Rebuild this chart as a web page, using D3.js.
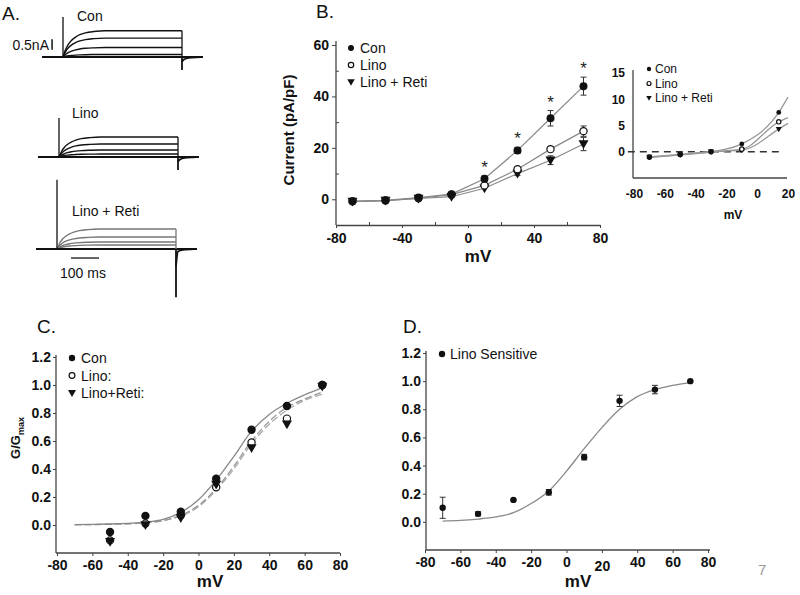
<!DOCTYPE html>
<html><head><meta charset="utf-8">
<script src="https://cdn.jsdelivr.net/npm/d3@7"></script>
<style>
body{margin:0;background:#fff}
svg{font-family:Arial,"Liberation Sans",sans-serif}
</style>
</head><body>
<svg id="c" width="800" height="595"></svg>
<script>
// ---------- DATA ----------
// Panel A: current traces (nA) vs time (ms)
const traceTime = [0, 10, 20, 30, 45, 60, 80, 110, 150, 425];
const traceFrac = [0, 0.3, 0.5, 0.63, 0.76, 0.85, 0.92, 0.97, 1, 1];
const conLevels = [1.25, 0.9, 0.45, 0.12];
const linoLevels = [0.95, 0.62, 0.33, 0.14];
const retiLevels = [0.95, 0.57, 0.33, 0.19];
const onSpikes = [1.9, 1.86, 3.3];
const offSpikes = [-0.62, -0.62, -2.3];
const traceLabels = ["Con", "Lino", "Lino + Reti"];

// Panel B: I-V
const ivV = [-70, -50, -30, -10, 10, 30, 50, 70];
const ivCon = [-0.8, -0.4, 0.7, 2, 8, 19, 31.5, 44];
const ivConErr = [0.3, 0.3, 0.3, 0.4, 1, 1.2, 3, 3.5];
const ivLino = [-0.8, -0.5, 0.4, 1.8, 5.4, 11.7, 19.5, 26.5];
const ivLinoErr = [0.3, 0.3, 0.3, 0.3, 0.5, 0.8, 1, 2];
const ivReti = [-0.9, -0.5, 0.3, 1, 4.3, 10, 15.2, 21.5];
const ivRetiErr = [0.3, 0.3, 0.3, 0.3, 0.5, 0.8, 1.7, 2.6];
const ivSig = [10, 30, 50, 70];
const ivYTicks = [0, 20, 40, 60];
const ivXTicks = [-80, -40, 0, 40, 80];

// Panel B inset
const inV = [-70, -50, -30, -10, 14];
const inCon = [-1.1, -0.6, 0, 1.5, 7.5];
const inLino = [-1.0, -0.5, 0, 0.5, 5.7];
const inReti = [-1.0, -0.6, 0, 0.3, 4.3];
const inLineV = [-70, -50, -30, -10, 14, 20];
const inConLine = [-1.1, -0.6, 0, 1.5, 7.5, 10.4];
const inLinoLine = [-1.0, -0.5, 0, 0.5, 5.7, 6.5];
const inRetiLine = [-1.0, -0.6, 0, 0.3, 4.3, 5.4];
const inYTicks = [0, 5, 10, 15];
const inXTicks = [-80, -60, -40, -20, 0, 20];

// Panel C: G/Gmax
const cV = [-50, -30, -10, 10, 30, 50, 70];
const cCon = [-0.05, 0.065, 0.095, 0.33, 0.68, 0.85, 1.0];
const cLino = [-0.11, 0.01, 0.07, 0.27, 0.59, 0.76, 1.0];
const cReti = [-0.12, 0.0, 0.05, 0.29, 0.55, 0.72, 0.99];
const cFitV = [-70, -60, -50, -40, -30, -20, -10, 0, 10, 20, 30, 40, 50, 60, 70];
const cFitCon = [0.002, 0.004, 0.007, 0.012, 0.02, 0.04, 0.09, 0.18, 0.32, 0.49, 0.67, 0.79, 0.87, 0.93, 0.98];
const cFitLino = [0.002, 0.003, 0.005, 0.009, 0.016, 0.032, 0.07, 0.14, 0.26, 0.42, 0.6, 0.74, 0.84, 0.9, 0.95];
const cFitReti = [0.002, 0.003, 0.005, 0.008, 0.015, 0.03, 0.065, 0.13, 0.25, 0.4, 0.58, 0.72, 0.82, 0.89, 0.935];
const gYTicks = [0, 0.2, 0.4, 0.6, 0.8, 1.0, 1.2];
const gXTicks = [-80, -60, -40, -20, 0, 20, 40, 60, 80];

// Panel D: Lino sensitive
const dV = [-70, -50, -30, -10, 10, 30, 50, 70];
const dVal = [0.10, 0.057, 0.156, 0.21, 0.46, 0.86, 0.94, 1.0];
const dErr = [0.075, 0.015, 0.005, 0.02, 0.02, 0.04, 0.03, 0.005];
const dFit = [0.005, 0.01, 0.02, 0.035, 0.065, 0.13, 0.22, 0.36, 0.52, 0.67, 0.8, 0.89, 0.94, 0.97, 0.99];

// ---------- DRAW ----------
const svg = d3.select("#c");
const AX = "#444";
const hy = d => String(d);

function styleAxis(g, fs) {
  g.select(".domain").attr("stroke", AX).attr("stroke-width", 1.3);
  g.selectAll(".tick line").attr("stroke", AX).attr("stroke-width", 1);
  g.selectAll(".tick text").attr("font-size", fs).attr("font-weight", "bold").attr("fill", "#111")
    .attr("font-family", "Arial, 'Liberation Sans', sans-serif");
}
function panelLabel(t, x, y, fs) {
  svg.append("text").attr("x", x).attr("y", y).attr("font-size", fs).attr("fill", "#111").text(t);
}
const triDown = {
  draw(ctx, size) {
    const s = Math.sqrt(size);
    ctx.moveTo(-s * 0.6, -s * 0.45); ctx.lineTo(s * 0.6, -s * 0.45); ctx.lineTo(0, s * 0.6); ctx.closePath();
  }
};
function marker(g, kind, x, y, scale) {
  const k = scale || 1;
  if (kind === "con") g.append("circle").attr("cx", x).attr("cy", y).attr("r", 4 * k).attr("fill", "#111");
  else if (kind === "lino") g.append("circle").attr("cx", x).attr("cy", y).attr("r", 3.6 * k).attr("fill", "#fff").attr("stroke", "#111").attr("stroke-width", 1.2);
  else g.append("path").attr("transform", `translate(${x},${y})`).attr("d", d3.symbol().type(triDown).size(70 * k * k)()).attr("fill", "#111");
}
function errBar(g, x, y1, y2, cap) {
  g.append("line").attr("x1", x).attr("x2", x).attr("y1", y1).attr("y2", y2).attr("stroke", "#333").attr("stroke-width", 1);
  g.append("line").attr("x1", x - cap).attr("x2", x + cap).attr("y1", y1).attr("y2", y1).attr("stroke", "#333").attr("stroke-width", 1);
  g.append("line").attr("x1", x - cap).attr("x2", x + cap).attr("y1", y2).attr("y2", y2).attr("stroke", "#333").attr("stroke-width", 1);
}

// ---- Panel A ----
panelLabel("A.", 2, 20, 19);
const blocks = [
  { x0: 63, base: 57, levels: conLevels, col: "#111", lx: 77, ly: 21 },
  { x0: 59, base: 157, levels: linoLevels, col: "#111", lx: 72, ly: 118 },
  { x0: 57, base: 249, levels: retiLevels, col: "#777", lx: 72, ly: 216 }
];
let retiScales = null, conScales = null;
blocks.forEach((b, bi) => {
  const x = d3.scaleLinear().domain([-75, 500]).range([b.x0 - 21, b.x0 + 140]);
  const y = d3.scaleLinear().domain([0, 1]).range([b.base, b.base - 21]);
  if (bi === 0) conScales = { x, y };
  if (bi === 2) retiScales = { x, y };
  const g = svg.append("g");
  const ln = d3.line().x(d => x(d[0])).y(d => y(d[1])).curve(d3.curveMonotoneX);
  b.levels.forEach(L => {
    const pts = traceTime.map((t, i) => [t, L * traceFrac[i]]);
    g.append("path").attr("d", ln(pts)).attr("fill", "none").attr("stroke", b.col).attr("stroke-width", 1.4);
  });
  g.append("path").attr("d", d3.line().x(d => x(d[0])).y(d => y(d[1]))([[-75, 0], [500, 0]]))
    .attr("stroke", "#111").attr("stroke-width", 2).attr("fill", "none");
  g.append("line").attr("x1", x(0)).attr("x2", x(0)).attr("y1", y(0)).attr("y2", y(onSpikes[bi]))
    .attr("stroke", "#111").attr("stroke-width", 1.3);
  const maxL = d3.max(b.levels);
  g.append("line").attr("x1", x(425)).attr("x2", x(425)).attr("y1", y(maxL)).attr("y2", y(0))
    .attr("stroke", b.col).attr("stroke-width", 1.3);
  g.append("line").attr("x1", x(425)).attr("x2", x(425)).attr("y1", y(0)).attr("y2", y(offSpikes[bi]))
    .attr("stroke", "#111").attr("stroke-width", 1.8);
  g.append("path").attr("d", ln([[425, offSpikes[bi] * 0.35], [432, -0.12], [450, -0.04], [490, 0]]))
    .attr("stroke", "#111").attr("stroke-width", 1.8).attr("fill", "none");
  svg.append("text").attr("x", b.lx).attr("y", b.ly).attr("font-size", 14).attr("fill", "#111").text(traceLabels[bi]);
});
svg.append("line").attr("x1", conScales.x(-39)).attr("x2", conScales.x(-39))
  .attr("y1", conScales.y(0.35)).attr("y2", conScales.y(0.85)).attr("stroke", "#111").attr("stroke-width", 1.5);
svg.append("text").attr("x", 49).attr("y", 50).attr("text-anchor", "end").attr("font-size", 14).attr("fill", "#111").text("0.5nA");
svg.append("line").attr("x1", retiScales.x(50)).attr("x2", retiScales.x(150))
  .attr("y1", retiScales.y(-0.43)).attr("y2", retiScales.y(-0.43)).attr("stroke", "#555").attr("stroke-width", 1.8);
svg.append("text").attr("x", 60).attr("y", 278).attr("font-size", 14).attr("fill", "#111").text("100 ms");

// ---- Panel B ----
panelLabel("B.", 316, 18, 19);
{
  const x = d3.scaleLinear().domain([-80, 80]).range([336, 600]);
  const y = d3.scaleLinear().domain([-10, 60]).range([225, 45]);
  const gy = svg.append("g").attr("transform", "translate(336,0)")
    .call(d3.axisLeft(y).tickValues(ivYTicks).tickFormat(hy).tickSize(4).tickSizeOuter(0).tickPadding(3));
  styleAxis(gy, 14);
  gy.select(".domain").attr("d", `M0,${y(-10)}V41`);
  const gym = svg.append("g").attr("transform", "translate(336,0)")
    .call(d3.axisLeft(y).tickValues([10, 30, 50]).tickSize(-3).tickSizeOuter(0).tickFormat(""));
  gym.select(".domain").remove(); gym.selectAll("line").attr("stroke", AX);
  const gx = svg.append("g").attr("transform", "translate(0,225)")
    .call(d3.axisBottom(x).tickValues(ivXTicks).tickFormat(hy).tickSize(3).tickSizeOuter(0).tickPadding(5));
  styleAxis(gx, 14);
  const gxm = svg.append("g").attr("transform", "translate(0,225)")
    .call(d3.axisBottom(x).tickValues([-60, -20, 20, 60]).tickSize(-3).tickSizeOuter(0).tickFormat(""));
  gxm.select(".domain").remove(); gxm.selectAll("line").attr("stroke", AX);

  svg.append("text").attr("transform", "translate(294,130) rotate(-90)").attr("text-anchor", "middle")
    .attr("font-size", 15).attr("font-weight", "bold").attr("fill", "#111").text("Current (pA/pF)");
  svg.append("text").attr("x", 478).attr("y", 262).attr("text-anchor", "middle")
    .attr("font-size", 17).attr("font-weight", "bold").attr("fill", "#111").text("mV");

  const g = svg.append("g");
  const ln = d3.line().x(d => x(d[0])).y(d => y(d[1]));
  [ivCon, ivLino, ivReti].forEach(arr => {
    g.append("path").attr("d", ln(ivV.map((v, i) => [v, arr[i]]))).attr("fill", "none").attr("stroke", "#888").attr("stroke-width", 1.2);
  });
  [[ivReti, ivRetiErr], [ivLino, ivLinoErr], [ivCon, ivConErr]].forEach(([arr, err]) => {
    ivV.forEach((v, i) => { if (err[i] > 0.6) errBar(g, x(v), y(arr[i] + err[i]), y(arr[i] - err[i]), 3); });
  });
  ivV.forEach((v, i) => marker(g, "reti", x(v), y(ivReti[i]), 1));
  ivV.forEach((v, i) => marker(g, "lino", x(v), y(ivLino[i]), 1));
  ivV.forEach((v, i) => marker(g, "con", x(v), y(ivCon[i]), 1));
  ivSig.forEach(v => {
    const i = ivV.indexOf(v);
    g.append("text").attr("x", x(v)).attr("y", y(ivCon[i] + ivConErr[i]) - 3).attr("text-anchor", "middle")
      .attr("font-size", 17).attr("fill", "#222").text("*");
  });
  const lg = svg.append("g");
  const leg = [["con", "Con"], ["lino", "Lino"], ["reti", "Lino + Reti"]];
  leg.forEach((d, i) => {
    marker(lg, d[0], 351, 48 + i * 17, 0.75);
    lg.append("text").attr("x", 360).attr("y", 48 + i * 17 + 5).attr("font-size", 14).attr("fill", "#111").text(d[1]);
  });
}

// ---- Panel B inset ----
{
  const x = d3.scaleLinear().domain([-80, 20]).range([634, 788]);
  const y = d3.scaleLinear().domain([-5, 15]).range([178, 73]);
  const gy = svg.append("g").attr("transform", "translate(633,0)")
    .call(d3.axisLeft(y).tickValues(inYTicks).tickFormat(hy).tickSize(0).tickSizeOuter(0).tickPadding(8));
  styleAxis(gy, 12);
  gy.select(".domain").attr("d", `M0,${y(-5)}V70`);
  const gx = svg.append("g").attr("transform", "translate(0,178)")
    .call(d3.axisBottom(x).tickValues(inXTicks).tickFormat(hy).tickSize(0).tickSizeOuter(0).tickPadding(11));
  styleAxis(gx, 12);
  gx.select(".domain").attr("d", "M633,0H787");
  svg.append("text").attr("x", 733).attr("y", 219).attr("text-anchor", "middle")
    .attr("font-size", 12).attr("font-weight", "bold").attr("fill", "#111").text("mV");
  const g = svg.append("g");
  const ln = d3.line().x(d => x(d[0])).y(d => y(d[1]));
  g.append("path").attr("d", ln([[-84, 0], [16, 0]])).attr("stroke", "#333").attr("stroke-width", 1.5)
    .attr("stroke-dasharray", "7,5").attr("fill", "none");
  const lc = d3.line().x(d => x(d[0])).y(d => y(d[1])).curve(d3.curveMonotoneX);
  [inConLine, inLinoLine, inRetiLine].forEach(arr => {
    g.append("path").attr("d", lc(inLineV.map((v, i) => [v, arr[i]]))).attr("fill", "none").attr("stroke", "#999").attr("stroke-width", 1.3);
  });
  inV.forEach((v, i) => marker(g, "reti", x(v), y(inReti[i]), 0.6));
  inV.forEach((v, i) => marker(g, "lino", x(v), y(inLino[i]), 0.6));
  inV.forEach((v, i) => marker(g, "con", x(v), y(inCon[i]), 0.6));
  const leg = [["con", "Con"], ["lino", "Lino"], ["reti", "Lino + Reti"]];
  leg.forEach((d, i) => {
    marker(g, d[0], 649, 69 + i * 14.5, 0.55);
    g.append("text").attr("x", 655).attr("y", 69 + i * 14.5 + 4).attr("font-size", 12).attr("fill", "#111").text(d[1]);
  });
}

// ---- Panel C ----
panelLabel("C.", 37, 333, 19);
{
  const x = d3.scaleLinear().domain([-80, 80]).range([57, 340]);
  const y = d3.scaleLinear().domain([-0.2, 1.2]).range([553, 357]);
  const gy = svg.append("g").attr("transform", "translate(56,0)")
    .call(d3.axisLeft(y).tickValues(gYTicks).tickFormat(d3.format(".1f")).tickSize(3).tickSizeOuter(0).tickPadding(2));
  styleAxis(gy, 14);
  gy.select(".domain").attr("d", `M0,553V355`);
  const gx = svg.append("g").attr("transform", "translate(0,553)")
    .call(d3.axisBottom(x).tickValues(gXTicks).tickFormat(hy).tickSize(3).tickSizeOuter(0).tickPadding(4));
  styleAxis(gx, 14);
  gx.select(".domain").attr("d", "M56,0H340");
  svg.append("text").attr("x", 210).attr("y", 587).attr("text-anchor", "middle")
    .attr("font-size", 17).attr("font-weight", "bold").attr("fill", "#111").text("mV");
  const yl = svg.append("text").attr("transform", "translate(20,438) rotate(-90)").attr("text-anchor", "middle")
    .attr("font-size", 13).attr("font-weight", "bold").attr("fill", "#111");
  yl.append("tspan").text("G/G");
  yl.append("tspan").attr("font-size", 9).attr("dy", 4).text("max");

  const g = svg.append("g");
  const lc = d3.line().x(d => x(d[0])).y(d => y(d[1])).curve(d3.curveMonotoneX);
  g.append("path").attr("d", lc(cFitV.map((v, i) => [v, cFitReti[i]]))).attr("fill", "none")
    .attr("stroke", "#aaa").attr("stroke-width", 1.3).attr("stroke-dasharray", "7,3");
  g.append("path").attr("d", lc(cFitV.map((v, i) => [v, cFitLino[i]]))).attr("fill", "none")
    .attr("stroke", "#999").attr("stroke-width", 1.3).attr("stroke-dasharray", "7,3");
  g.append("path").attr("d", lc(cFitV.map((v, i) => [v, cFitCon[i]]))).attr("fill", "none")
    .attr("stroke", "#888").attr("stroke-width", 1.3);
  cV.forEach((v, i) => marker(g, "lino", x(v), y(cLino[i]), 1));
  cV.forEach((v, i) => marker(g, "reti", x(v), y(cReti[i]), 1));
  cV.forEach((v, i) => marker(g, "con", x(v), y(cCon[i]), 1.05));
  const leg = [["con", "Con"], ["lino", "Lino:"], ["reti", "Lino+Reti:"]];
  leg.forEach((d, i) => {
    marker(g, d[0], 72, 358 + i * 17.5, 0.8);
    g.append("text").attr("x", 81).attr("y", 358 + i * 17.5 + 5).attr("font-size", 14).attr("fill", "#111").text(d[1]);
  });
}

// ---- Panel D ----
panelLabel("D.", 403, 333, 19);
{
  const x = d3.scaleLinear().domain([-80, 80]).range([425, 708]);
  const y = d3.scaleLinear().domain([-0.2, 1.2]).range([550, 353]);
  const gy = svg.append("g").attr("transform", "translate(426,0)")
    .call(d3.axisLeft(y).tickValues(gYTicks).tickFormat(d3.format(".1f")).tickSize(3).tickSizeOuter(0).tickPadding(2));
  styleAxis(gy, 14);
  gy.select(".domain").attr("d", `M0,550V351`);
  const gx = svg.append("g").attr("transform", "translate(0,550)")
    .call(d3.axisBottom(x).tickValues(gXTicks).tickFormat(hy).tickSize(3).tickSizeOuter(0).tickPadding(4));
  styleAxis(gx, 14);
  gx.select(".domain").attr("d", "M426,0H710");
  gx.selectAll(".tick text").filter(d => d === 20).attr("dy", "1.0em");
  svg.append("text").attr("x", 578).attr("y", 587).attr("text-anchor", "middle")
    .attr("font-size", 17).attr("font-weight", "bold").attr("fill", "#111").text("mV");
  const g = svg.append("g");
  const lc = d3.line().x(d => x(d[0])).y(d => y(d[1])).curve(d3.curveMonotoneX);
  g.append("path").attr("d", lc(cFitV.map((v, i) => [v, dFit[i]]))).attr("fill", "none")
    .attr("stroke", "#888").attr("stroke-width", 1.3);
  dV.forEach((v, i) => errBar(g, x(v), y(dVal[i] + dErr[i]), y(dVal[i] - dErr[i]), 3));
  dV.forEach((v, i) => marker(g, "con", x(v), y(dVal[i]), 0.8));
  marker(g, "con", 442, 354, 0.8);
  g.append("text").attr("x", 450).attr("y", 359).attr("font-size", 14).attr("fill", "#111").text("Lino Sensitive");
}

svg.append("text").attr("x", 758).attr("y", 575).attr("font-size", 15).attr("fill", "#999").text("7");
</script>
</body></html>
